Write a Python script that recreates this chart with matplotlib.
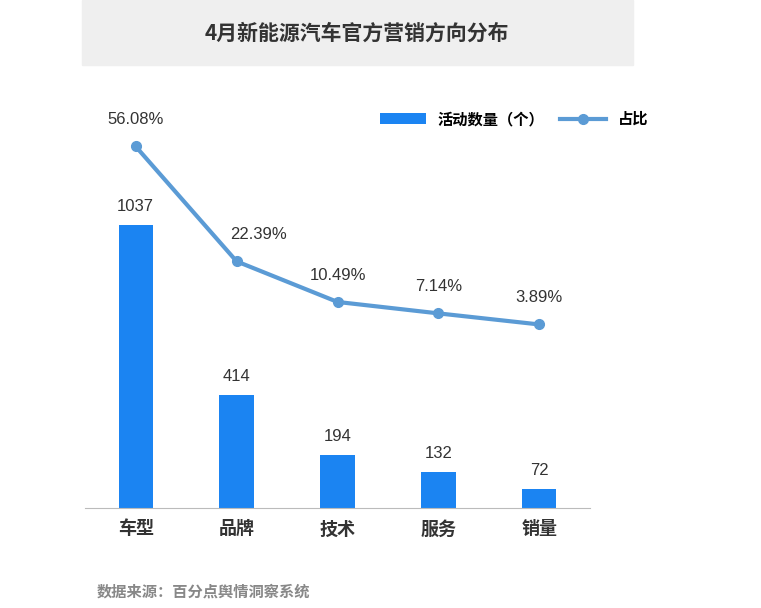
import matplotlib.pyplot as plt
from matplotlib.patches import Rectangle

plt.rcParams['font.family'] = ['Noto Sans CJK SC', 'DejaVu Sans']

categories = ['车型', '品牌', '技术', '服务', '销量']
counts = [1037, 414, 194, 132, 72]
shares = [56.08, 22.39, 10.49, 7.14, 3.89]

fig = plt.figure(figsize=(7.61, 6.08), dpi=100)
ax = fig.add_axes([0.112, 0.164, 0.663, 0.671])
x = range(len(categories))

bars = ax.bar(x, counts, width=0.34, color='#1b84f2', label='活动数量（个）', zorder=2)
for i, v in enumerate(counts):
    ax.annotate(str(v), (i, v), textcoords='offset points', xytext=(0, 10),
                ha='center', fontsize=12, color='#333333', family='Liberation Sans')
ax.set_xlim(-0.5, 4.5)
ax.set_ylim(0, 1494)
ax.set_xticks(list(x))
ax.set_xticklabels(categories, fontsize=13, fontweight='bold', color='#333333')
ax.tick_params(axis='x', length=0, pad=8)
ax.set_yticks([])
for s in ['top', 'right', 'left']:
    ax.spines[s].set_visible(False)
ax.spines['bottom'].set_color('#bbbbbb')

ax2 = ax.twinx()
line, = ax2.plot(x, shares, color='#5b9bd5', linewidth=3, marker='o', markersize=7,
                 label='占比', zorder=3)
for i, v in enumerate(shares):
    ax2.annotate(f'{v:.2f}%', (i, v), textcoords='offset points', xytext=(16 if i == 1 else 0, 16),
                 ha='center', fontsize=12, color='#333333', family='Liberation Sans')
ax2.set_ylim(-50, 69.6)
ax2.set_yticks([])
for s in ax2.spines.values():
    s.set_visible(False)

fig.legend(handles=[bars, line], loc='upper right', bbox_to_anchor=(0.87, 0.84),
           ncol=2, frameon=False, fontsize=11, handlelength=3, columnspacing=1.0,
           prop={'weight': 'bold', 'size': 11})

fig.patches.append(Rectangle((82 / 761, 1 - 65 / 608), (633 - 82) / 761, 65 / 608,
                             transform=fig.transFigure, color='#efefef', zorder=0))
fig.text(357 / 761, 1 - 33 / 608, '4月新能源汽车官方营销方向分布', ha='center', va='center',
         fontsize=15, fontweight='bold', color='#333333')
fig.text(97 / 761, 1 - 592 / 608, '数据来源：百分点舆情洞察系统', ha='left', va='center',
         fontsize=11, fontweight='bold', color='#888888')

fig.savefig('out.png', dpi=100)
